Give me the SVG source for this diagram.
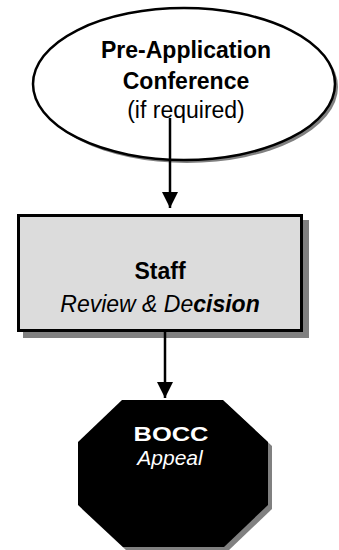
<svg xmlns="http://www.w3.org/2000/svg" width="339" height="550" viewBox="0 0 339 550">
<defs>
<style>
.t{font-family:"Liberation Sans",Arial,sans-serif;font-size:23px;text-anchor:middle}
.b{font-weight:bold}
.i{font-style:italic}
.sh{fill:#808080}
.ln{stroke:#000;stroke-width:2.5;fill:none}
</style>
<marker id="ah" markerWidth="16" markerHeight="16" viewBox="0 0 16 16" refX="16" refY="8" orient="auto" markerUnits="userSpaceOnUse">
<path d="M0,0 L16,8 L0,16 Z" fill="#000"/>
</marker>
</defs>
<rect width="339" height="550" fill="#fff"/>
<g id="pre-application">
<ellipse class="sh" cx="187" cy="87" rx="151" ry="76"/>
<ellipse cx="184" cy="84" rx="151" ry="76" fill="#fff" stroke="#000" stroke-width="2.5"/>
<text class="t b" x="186" y="58">Pre-Application</text>
<text class="t b" x="186" y="89">Conference</text>
<text class="t" x="186" y="118">(if required)</text>
</g>
<g id="staff">
<rect class="sh" x="23" y="220" width="286" height="118"/>
<rect x="18.5" y="215.5" width="283" height="115" fill="#dcdcdc" stroke="#000" stroke-width="3"/>
<text class="t b" x="160" y="279">Staff</text>
<text class="t i" x="160" y="312">Review &amp; De<tspan class="b">cision</tspan></text>
</g>
<g id="bocc">
<polygon class="sh" points="126,404 227,404 272,446 272,509 228,551 127,551 82,509 82,446"/>
<polygon points="122,400 223,400 268,442 268,505 224,547 123,547 78,505 78,442" fill="#000"/>
<text class="t b" x="171" y="441" fill="#fff" style="font-size:20px" textLength="75" lengthAdjust="spacingAndGlyphs">BOCC</text>
<text class="t i" x="170" y="465" fill="#fff" style="font-size:21px">Appeal</text>
</g>
<g id="connectors">
<line class="ln" x1="170" y1="118" x2="170" y2="208" marker-end="url(#ah)"/>
<line class="ln" x1="165" y1="332" x2="165" y2="398" marker-end="url(#ah)"/>
</g>
</svg>
